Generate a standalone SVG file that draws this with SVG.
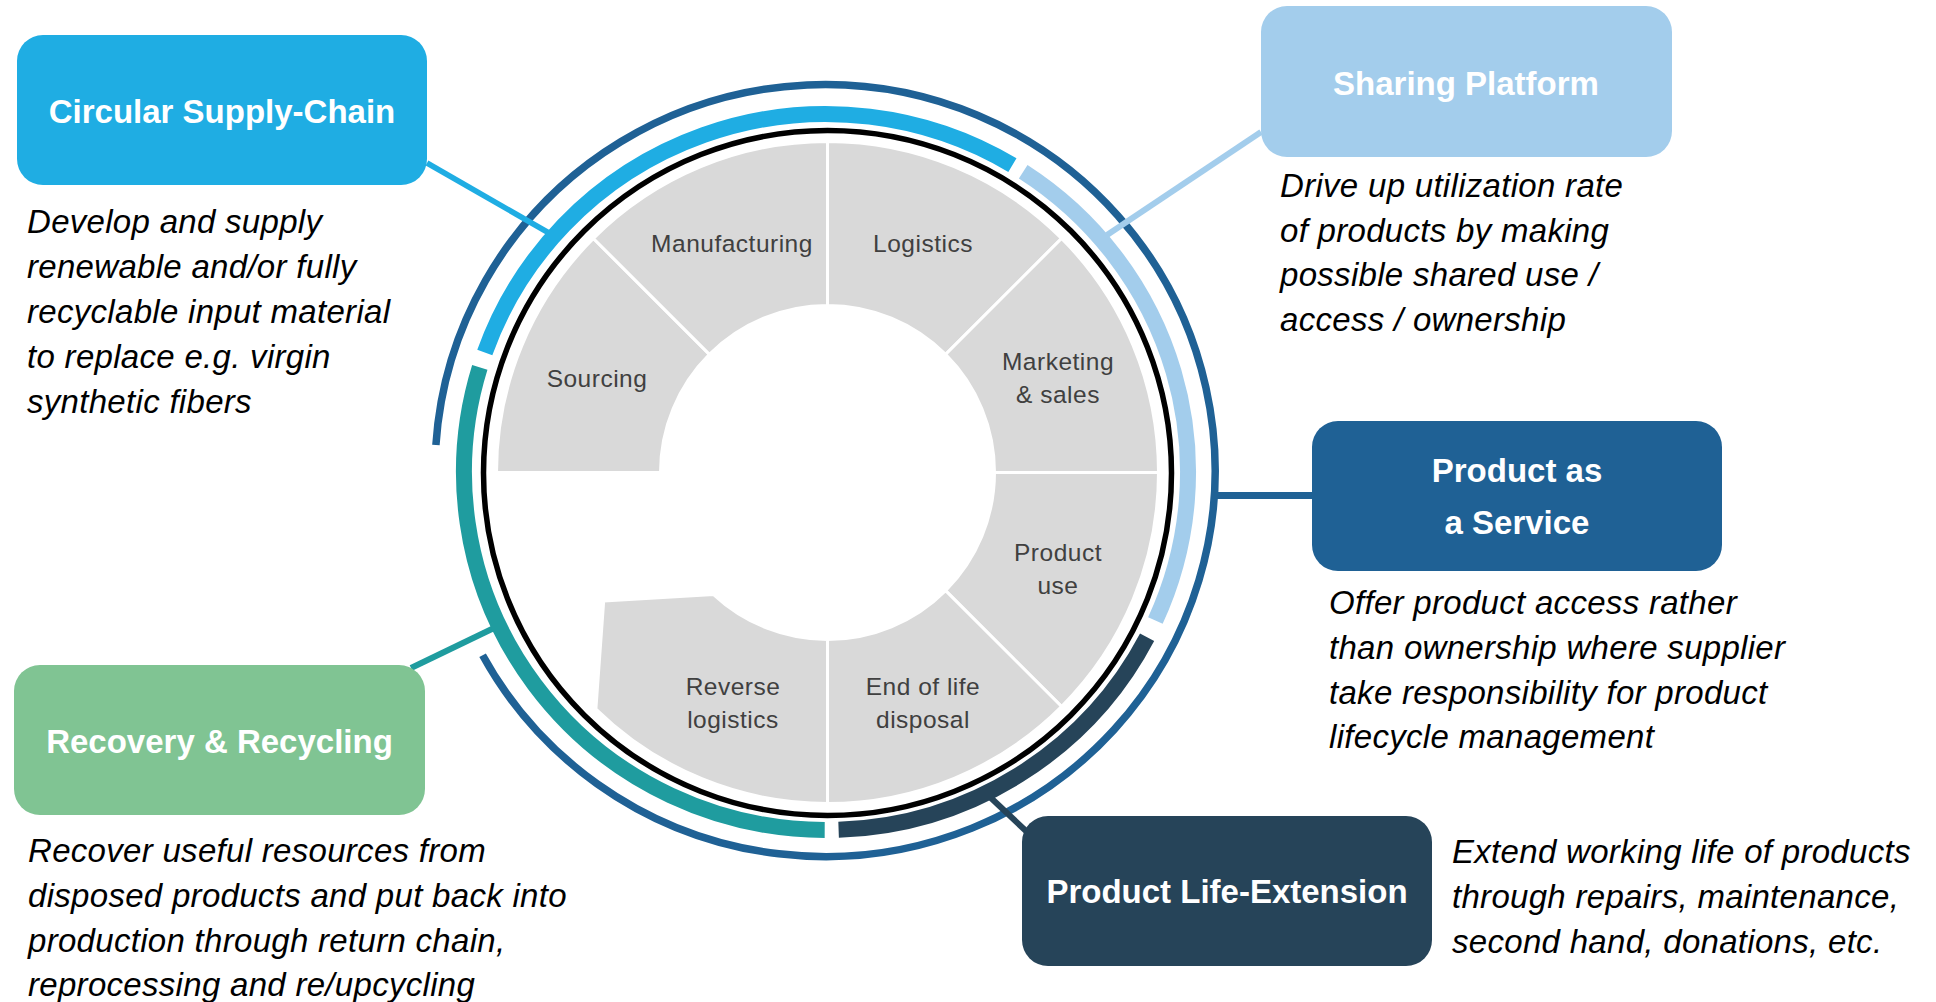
<svg xmlns="http://www.w3.org/2000/svg" width="1936" height="1002" viewBox="0 0 1936 1002">
<style>
.seg{fill:#d9d9d9;stroke:#ffffff;stroke-width:3}
.lbl{font-family:"Liberation Sans",Arial,sans-serif;font-size:24.5px;fill:#404040;text-anchor:middle;letter-spacing:0.5px}
.ttl{font-family:"Liberation Sans",Arial,sans-serif;font-size:33px;font-weight:bold;fill:#ffffff;text-anchor:middle}
.dsc{font-family:"Liberation Sans",Arial,sans-serif;font-size:33px;font-style:italic;fill:#000000;letter-spacing:0.3px}
.band{fill:none;stroke-width:16}
.con{fill:none;stroke-linecap:butt}
</style>
<rect width="1936" height="1002" fill="#ffffff"/>

<g id="value-chain">
  <g id="seg-sourcing">
    <path class="seg" d="M496.5 472.5 A331 331 0 0 1 593.45 238.45 L709.41 354.41 A167 167 0 0 0 660.5 472.5 Z"/>
    <text class="lbl" x="597" y="387">Sourcing</text>
  </g>
  <g id="seg-manufacturing">
    <path class="seg" d="M593.45 238.45 A331 331 0 0 1 827.5 141.5 L827.5 305.5 A167 167 0 0 0 709.41 354.41 Z"/>
    <text class="lbl" x="732" y="252">Manufacturing</text>
  </g>
  <g id="seg-logistics">
    <path class="seg" d="M827.5 141.5 A331 331 0 0 1 1061.55 238.45 L945.59 354.41 A167 167 0 0 0 827.5 305.5 Z"/>
    <text class="lbl" x="923" y="252">Logistics</text>
  </g>
  <g id="seg-marketing">
    <path class="seg" d="M1061.55 238.45 A331 331 0 0 1 1158.5 472.5 L994.5 472.5 A167 167 0 0 0 945.59 354.41 Z"/>
    <text class="lbl" x="1058" y="370">Marketing</text>
    <text class="lbl" x="1058" y="403">&amp; sales</text>
  </g>
  <g id="seg-product-use">
    <path class="seg" d="M1158.5 472.5 A331 331 0 0 1 1061.55 706.55 L945.59 590.59 A167 167 0 0 0 994.5 472.5 Z"/>
    <text class="lbl" x="1058" y="561">Product</text>
    <text class="lbl" x="1058" y="594">use</text>
  </g>
  <g id="seg-end-of-life">
    <path class="seg" d="M1061.55 706.55 A331 331 0 0 1 827.5 803.5 L827.5 639.5 A167 167 0 0 0 945.59 590.59 Z"/>
    <text class="lbl" x="923" y="695">End of life</text>
    <text class="lbl" x="923" y="728">disposal</text>
  </g>
  <g id="seg-reverse-logistics">
    <path class="seg" d="M827.5 803.5 A331 331 0 0 1 595.9 709 L603.7 601 L713.6 594.6 A167 167 0 0 0 827.5 639.5 Z"/>
    <text class="lbl" x="733" y="695">Reverse</text>
    <text class="lbl" x="733" y="728">logistics</text>
  </g>
  <ellipse id="core-ring" cx="827.5" cy="473" rx="344" ry="342.5" fill="none" stroke="#000000" stroke-width="5.5"/>
  <path id="outer-ring" d="M435.9 444.9 A390 386 0 1 1 482.6 655.3" fill="none" stroke="#1F6195" stroke-width="7.5"/>
</g>

<g id="connectors">
  <path class="con" d="M427 163 L549 233" stroke="#1FADE3" stroke-width="5.5"/>
  <path class="con" d="M1261 132 L1107 235" stroke="#A3CDEC" stroke-width="6"/>
  <path class="con" d="M1217 495.5 L1313 495.5" stroke="#1F6195" stroke-width="7"/>
  <path class="con" d="M411 668 L494 628" stroke="#1F9C9F" stroke-width="6"/>
  <path class="con" d="M991 798 L1026 831" stroke="#264459" stroke-width="6"/>
</g>

<g id="bands">
  <path id="band-supply-chain" class="band" stroke="#1FADE3" d="M484.8 352.5 A362 358 0 0 1 1012.4 165.1"/>
  <path id="band-sharing" class="band" stroke="#A3CDEC" d="M1023.2 171.7 A362 358 0 0 1 1155.4 620.5"/>
  <path id="band-life-extension" class="band" stroke="#264459" d="M1147.1 637.3 A362 358 0 0 1 838.6 829.8"/>
  <path id="band-recovery" class="band" stroke="#1F9C9F" d="M824.7 830 A362 358 0 0 1 479.8 367.3"/>
</g>

<g id="node-circular-supply-chain">
  <rect x="17" y="35" width="410" height="150" rx="26" fill="#1FADE3"/>
  <text class="ttl" x="222" y="123">Circular Supply-Chain</text>
  <text class="dsc" x="27" y="233">Develop and supply</text>
  <text class="dsc" x="27" y="278">renewable and/or fully</text>
  <text class="dsc" x="27" y="323">recyclable input material</text>
  <text class="dsc" x="27" y="368">to replace e.g. virgin</text>
  <text class="dsc" x="27" y="413">synthetic fibers</text>
</g>

<g id="node-sharing-platform">
  <rect x="1261" y="6" width="411" height="151" rx="26" fill="#A3CDEC"/>
  <text class="ttl" x="1466" y="95">Sharing Platform</text>
  <text class="dsc" x="1280" y="197">Drive up utilization rate</text>
  <text class="dsc" x="1280" y="242">of products by making</text>
  <text class="dsc" x="1280" y="286">possible shared use /</text>
  <text class="dsc" x="1280" y="331">access / ownership</text>
</g>

<g id="node-product-as-a-service">
  <rect x="1312" y="421" width="410" height="150" rx="26" fill="#1F6195"/>
  <text class="ttl" x="1517" y="482">Product as</text>
  <text class="ttl" x="1517" y="534">a Service</text>
  <text class="dsc" x="1329" y="614">Offer product access rather</text>
  <text class="dsc" x="1329" y="659">than ownership where supplier</text>
  <text class="dsc" x="1329" y="704">take responsibility for product</text>
  <text class="dsc" x="1329" y="748">lifecycle management</text>
</g>

<g id="node-recovery-recycling">
  <rect x="14" y="665" width="411" height="150" rx="26" fill="#80C493"/>
  <text class="ttl" x="219.5" y="753">Recovery &amp; Recycling</text>
  <text class="dsc" x="28" y="862">Recover useful resources from</text>
  <text class="dsc" x="28" y="907">disposed products and put back into</text>
  <text class="dsc" x="28" y="952">production through return chain,</text>
  <text class="dsc" x="28" y="996">reprocessing and re/upcycling</text>
</g>

<g id="node-product-life-extension">
  <rect x="1022" y="816" width="410" height="150" rx="26" fill="#264459"/>
  <text class="ttl" x="1227" y="903">Product Life-Extension</text>
  <text class="dsc" x="1452" y="863">Extend working life of products</text>
  <text class="dsc" x="1452" y="908">through repairs, maintenance,</text>
  <text class="dsc" x="1452" y="953">second hand, donations, etc.</text>
</g>
</svg>
